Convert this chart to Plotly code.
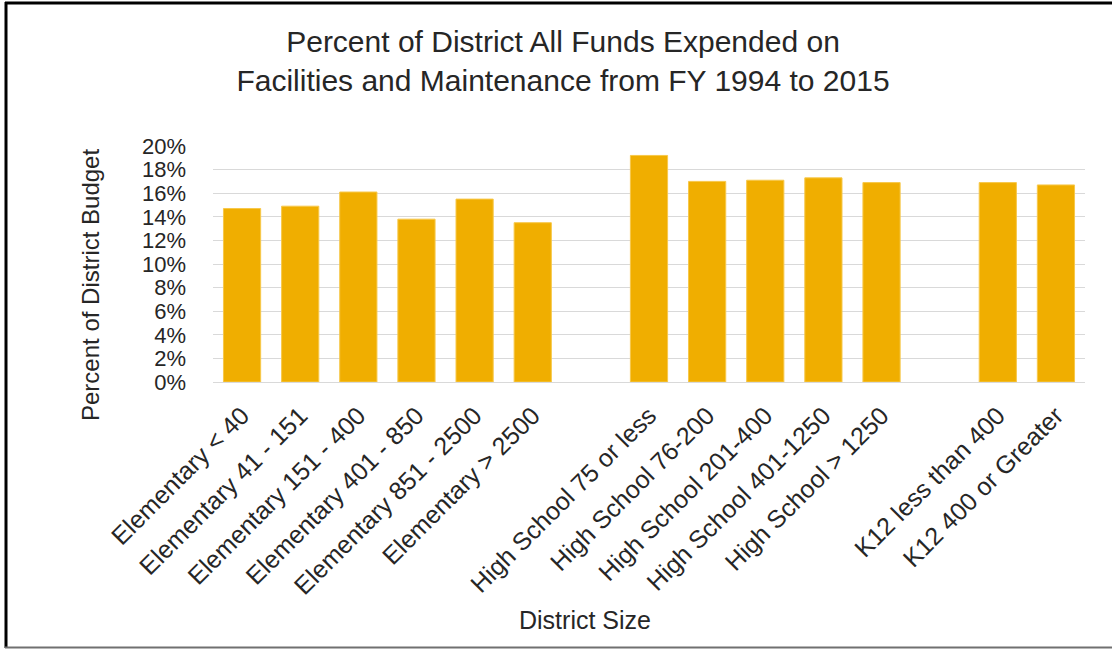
import plotly.graph_objects as go

categories = [
    "Elementary < 40", "Elementary 41 - 151", "Elementary 151 - 400",
    "Elementary 401 - 850", "Elementary 851 - 2500", "Elementary > 2500",
    " ",
    "High School 75 or less", "High School 76-200", "High School 201-400",
    "High School 401-1250", "High School > 1250",
    "  ",
    "K12 less than 400", "K12 400 or Greater",
]
values = [
    0.147, 0.149, 0.161, 0.138, 0.155, 0.135,
    None,
    0.192, 0.170, 0.171, 0.173, 0.169,
    None,
    0.169, 0.167,
]
y_ticks = [0, 0.02, 0.04, 0.06, 0.08, 0.10, 0.12, 0.14, 0.16, 0.18, 0.20]

title_text = "Percent of District All Funds Expended on<br>Facilities and Maintenance from FY 1994 to 2015"
y_title = "Percent of District Budget"
x_title = "District Size"

W, H = 1112, 649
L, R, T, B = 213, 27, 146, 267
PW, PH = W - L - R, H - T - B

def px_x(px):
    return (px - L) / PW

def px_y(py):
    return (H - B - py) / PH

FONT = "Liberation Sans, Arial, sans-serif"

fig = go.Figure(
    go.Bar(
        x=categories,
        y=values,
        marker=dict(color="#F0AE00", line=dict(color="#F7C84A", width=1)),
        hoverinfo="x+y",
    )
)

fig.update_layout(
    width=W,
    height=H,
    margin=dict(l=L, r=R, t=T, b=B, autoexpand=False),
    paper_bgcolor="white",
    plot_bgcolor="white",
    bargap=0.36,
    showlegend=False,
    font=dict(family=FONT, color="#262626"),
    title=dict(
        text=title_text,
        x=563 / W,
        xref="container",
        xanchor="center",
        y=1 - 52 / H,
        yref="container",
        yanchor="middle",
        font=dict(size=30, family=FONT, color="#262626"),
    ),
    xaxis=dict(
        type="category",
        categoryorder="array",
        categoryarray=categories,
        tickangle=-45,
        tickfont=dict(size=25, family=FONT, color="#262626"),
        showgrid=False,
        showline=True,
        linecolor="#d9d9d9",
        linewidth=1,
        ticks="",
        ticklabelstandoff=8,
    ),
    yaxis=dict(
        range=[0, 0.20],
        tickvals=y_ticks,
        tickformat=".0%",
        tickfont=dict(size=22, family=FONT, color="#262626"),
        showgrid=True,
        gridcolor="#d9d9d9",
        gridwidth=1,
        zeroline=False,
        ticks="",
        ticklabelstandoff=26,
    ),
    annotations=[
        dict(
            text=y_title, textangle=-90, showarrow=False,
            xref="paper", yref="paper", x=px_x(90), y=px_y(285),
            xanchor="center", yanchor="middle",
            font=dict(size=24, family=FONT, color="#262626"),
        ),
        dict(
            text=x_title, showarrow=False,
            xref="paper", yref="paper", x=px_x(585), y=px_y(620),
            xanchor="center", yanchor="middle",
            font=dict(size=25, family=FONT, color="#262626"),
        ),
    ],
    shapes=[
        dict(type="line", xref="paper", yref="paper",
             x0=px_x(5), x1=px_x(W), y0=px_y(3), y1=px_y(3),
             line=dict(color="black", width=3)),
        dict(type="line", xref="paper", yref="paper",
             x0=px_x(6), x1=px_x(6), y0=px_y(2), y1=px_y(648),
             line=dict(color="black", width=3)),
        dict(type="line", xref="paper", yref="paper",
             x0=px_x(5), x1=px_x(W), y0=px_y(647.5), y1=px_y(647.5),
             line=dict(color="#707070", width=2)),
    ],
)

fig.write_html(
    "out.html",
    config={"displayModeBar": False},
    post_script="document.body.style.margin='0';document.body.style.overflow='hidden';",
)
